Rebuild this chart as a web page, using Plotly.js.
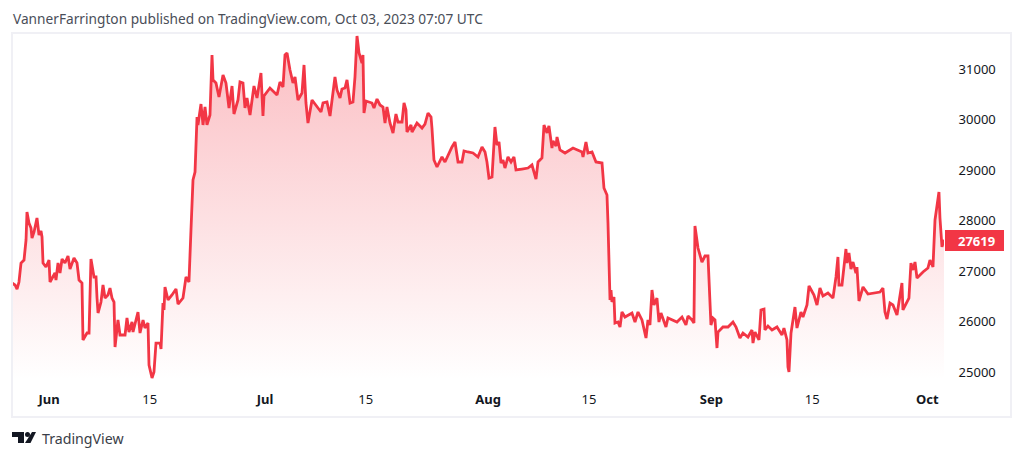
<!DOCTYPE html>
<html>
<head>
<meta charset="utf-8">
<script src="https://cdn.plot.ly/plotly-3.0.1.min.js"></script>
<style>html,body{margin:0;padding:0;background:#fff}</style>
</head>
<body>
<div id="plot" style="width:1023px;height:459px"></div>
<script>
// days after 1 Jun 2023
var days = [-5.14,-4.72,-4.44,-4.17,-3.89,-3.47,-3.19,-3.06,-2.78,-2.5,-2.36,-2.08,-1.67,-1.39,-1.11,-0.97,-0.83,-0.42,0,0.14,0.83,0.97,1.25,1.53,1.81,2.22,2.64,2.92,3.47,3.89,4.17,4.58,4.72,5.28,5.56,5.83,6.25,6.53,6.67,6.81,7.22,7.5,7.78,8.19,8.47,8.75,9.03,9.17,9.58,9.86,10.56,10.83,11.11,11.53,11.67,12.36,12.64,13.06,13.33,13.75,13.89,14.31,14.58,14.86,15.42,15.56,15.83,15.97,16.11,16.53,17.08,17.64,17.92,18.61,19.03,19.44,19.72,20,20.28,20.56,20.69,21.11,21.39,21.67,21.94,22.36,22.64,22.78,23.19,23.61,24.17,24.58,25,25.42,25.69,26.25,26.53,26.94,27.22,27.5,27.92,28.47,28.89,29.44,29.72,29.86,30.69,31.67,32.08,32.5,32.78,33.06,33.47,33.89,34.17,34.58,35.14,35.42,35.69,35.97,36.53,37.22,37.78,38.06,38.61,39.03,39.72,40,40.42,40.69,41.11,41.39,41.81,42.22,42.5,42.78,43.06,43.47,43.61,43.75,44.03,44.86,45.14,45.56,45.97,46.39,46.67,46.94,47.36,47.78,48.19,48.47,49.03,49.31,49.58,49.72,50.28,50.42,51.11,51.81,52.22,52.64,53.06,53.19,53.47,53.89,54.58,55,55.42,55.97,56.39,56.81,57.36,57.64,58.19,58.89,59.58,60.14,60.56,60.83,61.11,61.53,61.94,62.22,62.5,62.78,63.06,63.33,63.75,64.17,64.58,64.86,65.69,66.53,67.08,67.64,67.92,68.47,68.75,69.17,69.44,69.86,70,70.42,70.56,70.97,71.67,72.78,74.03,74.17,74.58,74.86,75.42,75.97,76.81,77.08,77.5,77.64,77.92,78.06,78.19,78.47,78.61,79.03,79.31,79.58,80,80.97,81.39,81.81,82.36,82.92,83.19,83.47,83.75,84.03,84.44,84.72,85,85.69,85.97,87.22,87.92,88.47,88.75,89.31,89.58,89.72,90.14,90.69,91.11,91.53,91.94,92.22,92.5,92.78,92.92,93.61,94.31,95,95.42,95.97,96.39,97.08,97.64,97.78,98.06,98.61,98.89,99.31,99.44,99.86,100.42,101.11,101.81,102.08,102.5,102.64,102.78,103.06,103.61,103.89,104.44,104.72,105.28,105.56,106.25,106.67,107.08,107.5,108.19,108.89,109.31,109.58,109.72,110.14,110.69,110.83,111.11,111.39,111.67,112.08,112.22,112.5,113.06,113.75,115.42,115.83,116.11,116.39,116.81,117.22,117.78,118.47,118.61,119.17,119.44,119.72,120,120.28,120.56,121.39,122.08,122.36,122.78,123.06,123.33,123.61,123.75,124.03,124.31];
var prices = [26762,26723,26643,26782,27158,27218,27614,28168,27950,27851,27653,27772,28049,27713,27792,27673,27158,27079,27218,26782,26960,26822,27158,26960,27237,27158,27297,27039,27257,27158,26822,26762,25634,25772,25772,27237,26881,26881,26465,26168,26386,26723,26465,26525,26663,26465,26386,25495,26030,25733,25733,26069,25792,25990,25792,26188,25772,26030,25871,25970,25139,24881,25000,25574,25574,25455,26366,26228,26683,26426,26525,26643,26346,26465,26881,26782,27812,28802,28960,30049,29891,30306,29891,30247,29891,30089,31277,30782,30722,30445,30881,30722,30227,30663,30108,30386,30742,30722,30227,30425,30089,30663,30425,30920,30069,30465,30623,30485,30742,30643,31277,31316,30980,30722,30841,30386,30524,31079,30326,29930,30386,30247,30148,30326,30346,30069,30841,30584,30425,30603,30623,30782,30326,30346,30841,31653,31316,31118,31277,30128,30366,30326,30227,30405,30287,30247,29930,30247,29930,29732,30108,29950,29950,30326,30188,29752,29891,29752,29930,29831,29910,30128,30049,29831,29198,29059,29257,29158,29297,29455,29554,29158,29158,29376,29356,29336,29257,29455,29356,29158,28841,28861,29851,29495,29554,29138,29198,29039,29257,29158,29257,29000,29019,29039,29099,28821,29158,29237,29891,29732,29871,29435,29574,29475,29653,29396,29336,29435,29356,29257,29554,29336,29356,29158,29138,28643,28505,27950,26426,26624,26386,26485,25970,25990,25891,26188,26089,26168,25990,26188,26030,25673,26030,25931,26624,26327,26465,25990,26168,25891,26069,25990,26089,25931,26109,26030,25970,27891,27455,27178,27297,27297,25931,26069,26030,25475,25792,25891,25891,25990,25891,25673,25772,25693,25832,25574,25792,25634,26228,26247,25832,25911,25832,25891,25733,25871,25634,25099,25000,25772,26287,25871,26188,26089,26327,26703,26525,26327,26663,26505,26564,26465,26881,27277,26723,26723,27435,27158,27356,27039,27178,26960,27079,26406,26683,26544,26584,26663,26188,26049,26366,26327,26129,26762,26228,26386,26465,27158,27020,27178,26861,26980,27059,27218,27079,28010,28307,28564,28049,27475,27619];

var tickDays = [0,14,30,44,61,75,92,106,122];
var tickNames = ['<b>Jun</b>','15','<b>Jul</b>','15','<b>Aug</b>','15','<b>Sep</b>','15','<b>Oct</b>'];
var priceTicks = [25000,26000,27000,28000,29000,30000,31000];
var lastPrice = 27619;

var JUN1 = Date.UTC(2023,5,1);
function toTime(d){ return JUN1 + d*86400000; }

var W = 932, H = 351; // plot size
function px(x){ return (x-12)/W; }
function py(y){ return (385-y)/H; }

var trace1 = {
  x: days.map(toTime),
  y: prices,
  type: 'scatter',
  mode: 'lines',
  line: {color:'#f23645', width:2.8, shape:'linear'},
  fill: 'tozeroy',
  fillgradient: {
    type: 'vertical',
    start: 24850,
    stop: 31692,
    colorscale: [[0,'rgba(242,54,69,0)'],[1,'rgba(242,54,69,0.33)']]
  },
  hoverinfo: 'x+y'
};

// logo pieces, paper coordinates from pixels
function poly(pts, col){
  var p = pts.map(function(q,i){ return (i?'L':'M')+px(q[0])+','+py(q[1]); }).join(' ')+' Z';
  return {type:'path', xref:'paper', yref:'paper', path:p, fillcolor:col, line:{width:0}, layer:'above'};
}

var layout = {
  width: 1023,
  height: 459,
  margin: {l:12, r:79, t:34, b:74, pad:0},
  paper_bgcolor: '#ffffff',
  plot_bgcolor: '#ffffff',
  showlegend: false,
  font: {family:'"Noto Sans", sans-serif', color:'#131722'},
  xaxis: {
    type: 'date',
    range: [toTime(-5.14), toTime(124.31)],
    tickmode: 'array',
    tickvals: tickDays.map(toTime),
    ticktext: tickNames,
    tickfont: {size:13, color:'#131722', family:'"Noto Sans", sans-serif'},
    ticks: 'outside',
    ticklen: 2,
    tickcolor: 'rgba(0,0,0,0)',
    showgrid: false,
    zeroline: false,
    showline: false
  },
  yaxis: {
    side: 'right',
    range: [24743, 31692],
    tickmode: 'array',
    tickvals: priceTicks,
    ticktext: priceTicks.map(String),
    tickfont: {size:13, color:'#131722', family:'"Noto Sans", sans-serif'},
    ticks: 'outside',
    ticklen: 11,
    tickcolor: 'rgba(0,0,0,0)',
    showgrid: false,
    zeroline: false,
    showline: false
  },
  shapes: [
    {type:'rect', xref:'paper', yref:'paper', x0:px(12), x1:px(1011), y0:py(417), y1:py(33),
     line:{color:'#f0f0f5', width:2}, fillcolor:'rgba(0,0,0,0)', layer:'above'},
    {type:'rect', xref:'paper', yref:'paper', x0:px(945), x1:px(1004), y0:py(251), y1:py(230),
     line:{width:0}, fillcolor:'#f23645', layer:'above'},
    poly([[12,432],[24,432],[24,443],[18,443],[18,437],[12,437]], '#131722'),
    poly([[32,432],[36,432],[30.5,443],[25,443]], '#131722'),
    {type:'circle', xref:'paper', yref:'paper', x0:px(25), x1:px(30), y0:py(437), y1:py(432),
     fillcolor:'#131722', line:{width:0}, layer:'above'}
  ],
  annotations: [
    {xref:'paper', yref:'paper', x:px(976), y:py(241), xanchor:'center', yanchor:'middle',
     text:'<b>'+lastPrice+'</b>', showarrow:false, font:{size:13, color:'#ffffff'}},
    {xref:'paper', yref:'paper', x:px(12), y:py(18), xanchor:'left', yanchor:'middle', showarrow:false,
     text:'VannerFarrington published on TradingView.com, Oct 03, 2023 07:07 UTC',
     font:{size:13.7, color:'#4a4e58'}, borderpad:0},
    {xref:'paper', yref:'paper', x:px(41), y:py(438), xanchor:'left', yanchor:'middle', showarrow:false,
     text:'TradingView', font:{size:14.2, color:'#3a3e48'}, borderpad:0}
  ]
};

Plotly.newPlot(document.getElementById('plot'), [trace1], layout, {displayModeBar:false, displaylogo:false});
</script>
</body>
</html>
